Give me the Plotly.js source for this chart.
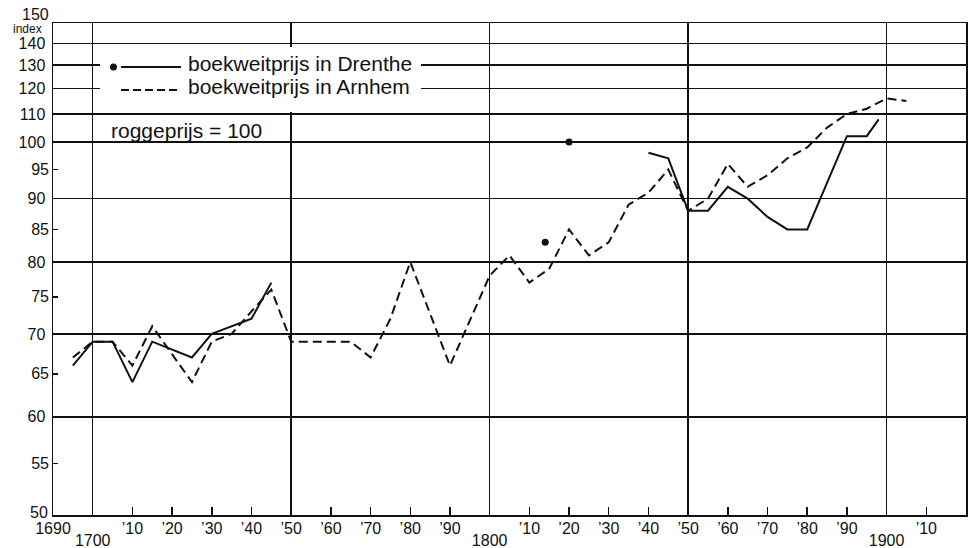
<!DOCTYPE html>
<html>
<head>
<meta charset="utf-8">
<script src="https://cdn.plot.ly/plotly-3.0.1.min.js"></script>
<style>html,body{margin:0;padding:0;background:#fff;}#chart{width:969px;height:548px;}</style>
</head>
<body>
<div id="chart"></div>
<script>
// ---- data ----
const drentheYears  = [1695,1700,1705,1710,1715,1725,1730,1740,1745,1814,1820,1840,1845,1850,1855,1860,1865,1870,1875,1880,1890,1895,1898];
const drentheValues = [66,69,69,64,69,67,70,72,77,83,100,98,97,88,88,92,90,87,85,85,102,102,108];
const drentheSingleYears = [1814,1820]; // shown as isolated asterisks only

const arnhemYears  = [1695,1700,1705,1710,1715,1725,1730,1735,1740,1745,1750,1755,1760,1765,1770,1775,1780,1790,1800,1805,1810,1815,1820,1825,1830,1835,1840,1845,1850,1855,1860,1865,1870,1875,1880,1885,1890,1895,1900,1905];
const arnhemValues = [67,69,69,66,71,64,69,70,73,76,69,69,69,69,67,72,80,66,78,81,77,79,85,81,83,89,91,95,88,90,96,92,94,97,99,105,110,112,116,115];

const decadeTickYears  = [1690,1710,1720,1730,1740,1750,1760,1770,1780,1790,1810,1820,1830,1840,1850,1860,1870,1880,1890,1910];
const decadeTickLabels = ["1690","’10","’20","’30","’40","’50","’60","’70","’80","’90","’10","’20","’30","’40","’50","’60","’70","’80","’90","’10"];
const centuryGridYears  = [1700,1750,1800,1850,1900];
const centuryGridLabels = ["1700","","1800","","1900"];

const yGridValues  = [50,60,70,80,90,100,110,120,130,140,150];
const yMinorValues = [55,65,75,85,95];

const legendLabels = ["boekweitprijs in Drenthe","boekweitprijs in Arnhem"];
const baseNote = "roggeprijs = 100";
const unitLabel = "index";

// ---- broken logarithmic scale: above 100 the decade is compressed ----
const K = 0.545;
function T(v){ if(v===null) return null; const l = Math.log10(v); return l <= 2 ? l : 2 + K*(l-2); }

const singles = new Set(drentheSingleYears);
const drLineY = drentheYears.map((yr,i)=> singles.has(yr) ? null : T(drentheValues[i]));
const drSingleX = drentheYears.filter(yr=>singles.has(yr));
const drSingleY = drentheYears.map((yr,i)=>[yr,drentheValues[i]]).filter(p=>singles.has(p[0])).map(p=>T(p[1]));

const INK = '#111';
const FONT = 'Liberation Sans, Arial, Helvetica, sans-serif';
const TICK = {size:16, family:FONT, color:INK};
const xRange = [1690,1920];
const yRange = [T(50),T(150)];

// the end labels (50, 150) are placed as annotations so that they can sit off-centre like the reference
const yEnds = [yGridValues[0], yGridValues[yGridValues.length-1]];
const yMainText = yGridValues.map(v => yEnds.includes(v) ? "" : String(v));

const traces = [
  {x: arnhemYears, y: arnhemValues.map(T), type:'scatter', mode:'lines',
   line:{color:INK, width:2, dash:'9px,5px'}, hoverinfo:'skip', showlegend:false},
  {x: drentheYears, y: drLineY, type:'scatter', mode:'lines', connectgaps:false,
   line:{color:INK, width:2}, hoverinfo:'skip', showlegend:false},
  {x: drSingleX, y: drSingleY, type:'scatter', mode:'markers',
   marker:{color:INK, size:7, symbol:'circle'}, hoverinfo:'skip', showlegend:false},
  {x: [], y: [], xaxis:'x2', yaxis:'y2', type:'scatter', mode:'markers', showlegend:false, hoverinfo:'skip'}
];

// pixel helpers for legend placement (plot area: x 53..966, y 23..515)
const L=53, W=913, TOP=23, H=492;
const px = v => (v-L)/W;
const py = v => (TOP+H-v)/H;

const layout = {
  width:969, height:548,
  margin:{l:L, r:969-L-W, t:TOP, b:548-TOP-H, pad:0},
  paper_bgcolor:'#fff', plot_bgcolor:'#fff',
  font:{family:FONT, color:INK, size:16},
  showlegend:false,
  xaxis:{range:xRange, autorange:false, tickmode:'array', tickvals:centuryGridYears, ticktext:centuryGridLabels,
         showgrid:true, gridcolor:INK, gridwidth:1.4, ticks:'', showline:true, linecolor:INK, linewidth:1.5,
         mirror:true, zeroline:false, ticklabelstandoff:10, tickfont:TICK},
  xaxis2:{overlaying:'x', anchor:'y', side:'bottom', range:xRange, autorange:false, tickmode:'array',
          tickvals:decadeTickYears, ticktext:decadeTickLabels, ticks:'inside', ticklen:8, tickwidth:1.5, tickcolor:INK,
          showgrid:false, showline:false, zeroline:false, ticklabelstandoff:2, tickfont:TICK},
  yaxis:{range:yRange, autorange:false, tickmode:'array', tickvals:yGridValues.map(T), ticktext:yMainText,
         showgrid:true, gridcolor:INK, gridwidth:1.4, ticks:'', showline:true, linecolor:INK, linewidth:1.5,
         mirror:true, zeroline:false, ticklabelstandoff:3, tickfont:TICK},
  yaxis2:{overlaying:'y', anchor:'x', side:'left', range:yRange, autorange:false, tickmode:'array',
          tickvals:yMinorValues.map(T), ticktext:yMinorValues.map(String), ticks:'inside', ticklen:5, tickwidth:1.5, tickcolor:INK,
          showgrid:false, showline:false, zeroline:false, ticklabelstandoff:3, tickfont:TICK},
  shapes:[
    {type:'rect', xref:'paper', yref:'paper', x0:px(100), x1:px(421), y0:py(112), y1:py(47),
     fillcolor:'#fff', line:{width:0}, layer:'above'},
    {type:'line', xref:'paper', yref:'paper', x0:px(121), x1:px(181), y0:py(67), y1:py(67),
     line:{color:INK, width:2}, layer:'above'},
    {type:'line', xref:'paper', yref:'paper', x0:px(121), x1:px(181), y0:py(90), y1:py(90),
     line:{color:INK, width:2, dash:'8px,4px'}, layer:'above'},
    {type:'circle', xref:'paper', yref:'paper', x0:px(110), x1:px(117), y0:py(70.5), y1:py(63.5),
     fillcolor:INK, line:{width:0}, layer:'above'}
  ],
  annotations:[
    {text:String(yEnds[1]), xref:'paper', yref:'y', x:px(50), y:T(yEnds[1]), xanchor:'right', yanchor:'bottom',
     yshift:-1, borderpad:0, showarrow:false, font:TICK},
    {text:String(yEnds[0]), xref:'paper', yref:'y', x:px(50), y:T(yEnds[0]), xanchor:'right', yanchor:'middle',
     yshift:3, showarrow:false, font:TICK},
    {text:unitLabel, xref:'paper', yref:'paper', x:px(27), y:py(28.5), xanchor:'center', yanchor:'middle',
     borderpad:0, showarrow:false, font:{size:12, family:FONT, color:INK}},
    {text:legendLabels[0], xref:'paper', yref:'paper', x:px(186), y:py(63), xanchor:'left', yanchor:'middle',
     showarrow:false, font:{size:21, family:FONT, color:INK}},
    {text:legendLabels[1], xref:'paper', yref:'paper', x:px(186), y:py(86), xanchor:'left', yanchor:'middle',
     showarrow:false, font:{size:21, family:FONT, color:INK}},
    {text:baseNote, xref:'paper', yref:'paper', x:px(109), y:py(130), xanchor:'left', yanchor:'middle',
     showarrow:false, font:{size:21, family:FONT, color:INK}}
  ]
};

Plotly.newPlot('chart', traces, layout, {staticPlot:true, displayModeBar:false});
</script>
</body>
</html>
